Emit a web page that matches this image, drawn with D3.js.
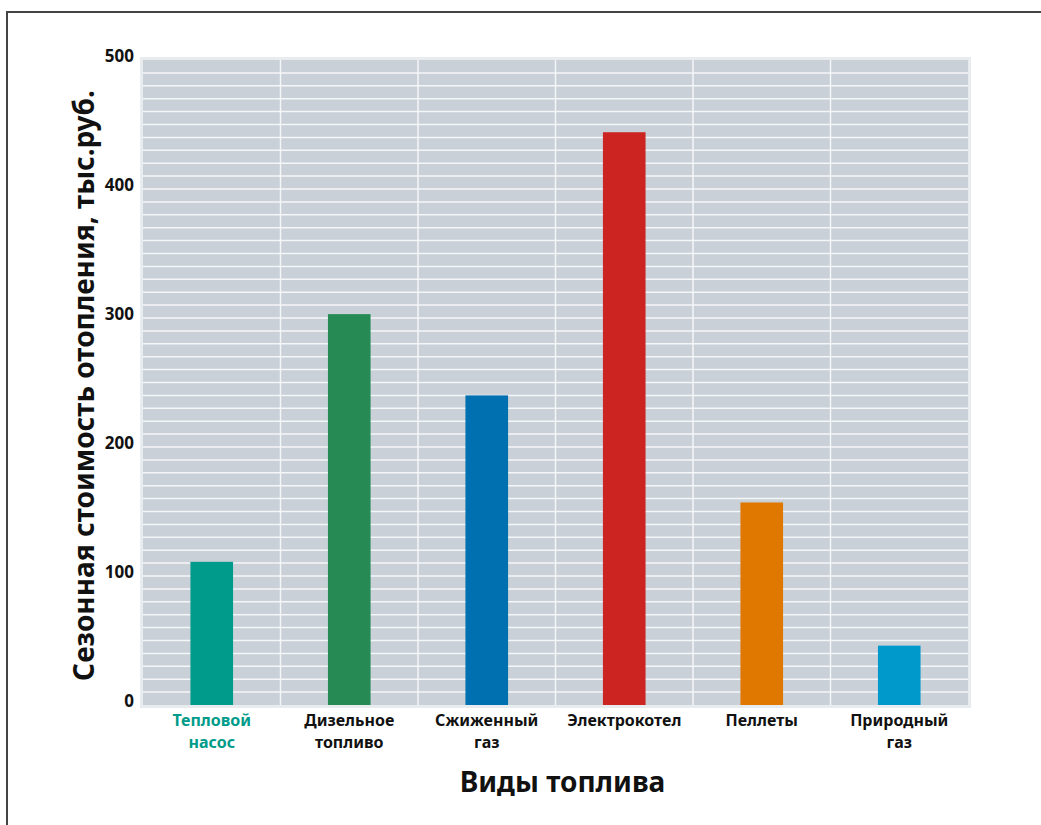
<!DOCTYPE html>
<html>
<head>
<meta charset="utf-8">
<script src="https://cdn.jsdelivr.net/npm/d3@7"></script>
<style>
  body { margin: 0; background: #fff; }
  svg { display: block; font-family: "Noto Sans", "Open Sans", sans-serif; }
  .tick-label { font-size: 17px; font-weight: 700; fill: #111; }
  .cat-label { font-size: 16px; font-weight: 700; fill: #111; }
  .axis-title { font-weight: 700; fill: #111; }
</style>
</head>
<body>
<svg id="chart" width="1041" height="825"></svg>
<script>
const categories = [
  ["Тепловой", "насос"],
  ["Дизельное", "топливо"],
  ["Сжиженный", "газ"],
  ["Электрокотел"],
  ["Пеллеты"],
  ["Природный", "газ"],
];
const values = [111, 303, 240, 444, 157, 46];
const barColors = ["#009b8a", "#268a55", "#0070b0", "#cc2420", "#e07800", "#0099cc"];
const yTicks = [0, 100, 200, 300, 400, 500];

const svg = d3.select("#chart");
const plot = { left: 143, right: 968, top: 60, bottom: 705 };

// outer frame (top and left edges only are visible)
svg.append("path")
  .attr("d", "M7,825 V12 H1041")
  .attr("fill", "none")
  .attr("stroke", "#444")
  .attr("stroke-width", 2);

const x = d3.scaleBand()
  .domain(d3.range(categories.length))
  .range([plot.left, plot.right])
  .padding(0);

const y = d3.scaleLinear().domain([0, 500]).range([plot.bottom, plot.top]);

// plot background with light rim
svg.append("rect")
  .attr("x", plot.left - 1.5)
  .attr("y", plot.top - 1.5)
  .attr("width", plot.right - plot.left + 3)
  .attr("height", plot.bottom - plot.top + 3)
  .attr("fill", "#c9d0d7")
  .attr("stroke", "#e9ecef")
  .attr("stroke-width", 3);

// horizontal grid every 10 units
svg.append("g")
  .selectAll("line")
  .data(d3.range(10, 500, 10))
  .join("line")
  .attr("x1", plot.left)
  .attr("x2", plot.right)
  .attr("y1", (d) => y(d))
  .attr("y2", (d) => y(d))
  .attr("stroke", "#f4f6f8")
  .attr("stroke-width", 1.5);

// vertical separators between categories
svg.append("g")
  .selectAll("line")
  .data(d3.range(1, categories.length))
  .join("line")
  .attr("x1", (i) => x(i))
  .attr("x2", (i) => x(i))
  .attr("y1", plot.top)
  .attr("y2", plot.bottom)
  .attr("stroke", "#f4f6f8")
  .attr("stroke-width", 1.5);

const barW = x.bandwidth() * 0.31;

svg.append("g")
  .selectAll("rect")
  .data(values)
  .join("rect")
  .attr("x", (d, i) => x(i) + (x.bandwidth() - barW) / 2)
  .attr("y", (d) => y(d))
  .attr("width", barW)
  .attr("height", (d) => y(0) - y(d))
  .attr("fill", (d, i) => barColors[i]);

// y tick labels
svg.append("g")
  .selectAll("text")
  .data(yTicks)
  .join("text")
  .attr("class", "tick-label")
  .attr("x", 134)
  .attr("y", (d) => y(d))
  .attr("dy", "0.1em")
  .attr("text-anchor", "end")
  .text((d) => d);

// category labels
const catG = svg.append("g")
  .selectAll("text")
  .data(categories)
  .join("text")
  .attr("class", "cat-label")
  .attr("text-anchor", "middle")
  .style("fill", (d, i) => (i === 0 ? barColors[0] : null));

catG.selectAll("tspan")
  .data((d, i) => d.map((line) => ({ line, i })))
  .join("tspan")
  .attr("x", (d) => x(d.i) + x.bandwidth() / 2)
  .attr("y", (d, j) => 726 + j * 22)
  .text((d) => d.line);

// axis titles
svg.append("text")
  .attr("class", "axis-title")
  .attr("transform", `translate(94,${(plot.top + plot.bottom) / 2 + 3}) rotate(-90)`)
  .attr("text-anchor", "middle")
  .style("font-size", "28px")
  .text("Сезонная стоимость отопления, тыс.руб.");

svg.append("text")
  .attr("class", "axis-title")
  .attr("x", (plot.left + plot.right) / 2 + 7)
  .attr("y", 792)
  .attr("text-anchor", "middle")
  .style("font-size", "28px")
  .text("Виды топлива");
</script>
</body>
</html>
